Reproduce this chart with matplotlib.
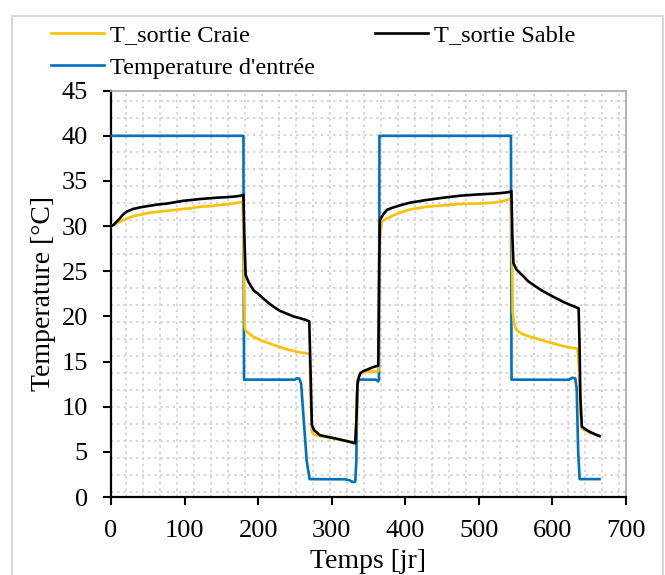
import matplotlib
matplotlib.use("Agg")
import matplotlib.pyplot as plt
from matplotlib.patches import Rectangle
import numpy as np

plt.rcParams['font.family'] = ['Liberation Serif', 'DejaVu Serif']

# Inlet temperature (blue)
t_in = [0, 180.0, 180.8, 250, 253, 256, 258.5, 262, 266, 270, 318, 324, 329, 332,
        333.5, 334.5, 335.5, 360, 363, 364.2, 364.9, 543.6, 544.4, 622, 627, 631,
        633, 635, 637, 664]
T_in = [40, 40, 13.0, 13.0, 13.15, 13.1, 12.5, 8.5, 4.0, 1.98, 1.96, 1.85, 1.65, 1.7,
        4.0, 11.5, 13.0, 13.0, 12.8, 13.0, 40, 40, 13.0, 12.98, 13.2, 13.15,
        12.0, 5.0, 1.98, 1.98]

# Outlet temperature, chalk (yellow)
t_craie = [0, 3, 12, 21, 30, 42, 53, 65, 76, 88, 98, 110, 121, 133, 144, 155, 166,
           173, 179, 180.6, 181.8, 184, 193.6, 205, 216, 228, 239, 252, 262, 268,
           270, 271.5, 273, 276, 284, 295, 307, 320, 332, 333.5, 335, 336.5, 339,
           350, 362, 363.6, 365, 368, 376, 384, 395, 406.6, 418, 429, 452, 474.6,
           497, 520, 532, 540, 543.5, 544.8, 546, 548, 551, 560, 570, 592.5, 615,
           628, 634, 636, 638, 640, 645, 651, 658, 664]
T_craie = [30.0, 30.1, 30.5, 30.8, 31.1, 31.3, 31.5, 31.6, 31.7, 31.8, 31.9, 32.0,
           32.15, 32.2, 32.3, 32.4, 32.5, 32.6, 32.7, 27.0, 18.7, 18.3, 17.75, 17.3,
           17.0, 16.65, 16.35, 16.1, 15.95, 15.9, 15.7, 11.0, 7.2, 6.9, 6.75, 6.6,
           6.4, 6.2, 6.05, 8.0, 12.0, 13.3, 13.8, 13.9, 13.9, 14.0, 28.0, 30.5,
           30.9, 31.2, 31.55, 31.85, 32.0, 32.15, 32.3, 32.45, 32.5, 32.6, 32.75,
           32.95, 33.0, 29.0, 20.5, 19.2, 18.5, 18.0, 17.75, 17.2, 16.7, 16.5, 16.45,
           14.5, 9.5, 7.6, 7.35, 7.1, 6.9, 6.75]

# Outlet temperature, sand (black)
t_sable = [0, 3, 7, 12, 16, 21, 30, 41, 53, 64, 76, 87, 98, 110, 121, 133, 144, 155,
           166, 175, 180, 181.2, 183, 187, 193.6, 200, 207, 214, 221, 230, 239, 248,
           257, 265, 269.5, 271.2, 273, 276, 284, 295, 307, 320, 332, 333.5, 335,
           337, 339, 343, 348, 355, 361, 363.3, 364.6, 365.5, 370, 375, 384, 395,
           406.6, 418, 429, 452, 474.6, 497, 520, 535, 542.6, 544.2, 545.5, 547,
           551, 556, 561, 567, 574, 583, 592.5, 603, 615, 625, 635.6, 636.8, 638,
           640, 645, 651, 658, 664]
T_sable = [30.0, 30.1, 30.45, 30.86, 31.25, 31.6, 31.9, 32.1, 32.26, 32.4, 32.5,
           32.65, 32.8, 32.9, 33.0, 33.08, 33.15, 33.2, 33.26, 33.35, 33.45, 29.0,
           24.6, 23.8, 22.9, 22.5, 22.0, 21.5, 21.07, 20.6, 20.3, 20.0, 19.8, 19.6,
           19.45, 14.0, 8.0, 7.4, 6.85, 6.65, 6.45, 6.2, 5.95, 8.5, 12.5, 13.3, 13.7,
           13.95, 14.1, 14.35, 14.5, 14.55, 26.0, 30.67, 31.3, 31.8, 32.08, 32.35,
           32.6, 32.75, 32.9, 33.15, 33.37, 33.5, 33.6, 33.7, 33.8, 33.9, 29.0, 25.9,
           25.2, 24.8, 24.4, 23.9, 23.5, 23.0, 22.55, 22.1, 21.6, 21.25, 20.9, 17.0,
           11.0, 7.8, 7.5, 7.2, 6.95, 6.75]

x_ticks = [0, 100, 200, 300, 400, 500, 600, 700]
y_ticks = [0, 5, 10, 15, 20, 25, 30, 35, 40, 45]

fig = plt.figure(figsize=(6.65, 5.75), dpi=100)
fig.patches.append(Rectangle((12 / 665, -0.02), 651 / 665, 1.02 - 16 / 575,
                             transform=fig.transFigure, fill=False,
                             edgecolor='#d9d9d9', linewidth=1.5, zorder=0))

ax = fig.add_axes([111 / 665, 1 - 497 / 575, 515 / 665, (497 - 90.7) / 575])

ax.plot(t_in, T_in, color='#0070C0', lw=1.9, label="Temperature d'entrée", zorder=3)
ax.plot(t_craie, T_craie, color='#FFC000', lw=1.9, label='T_sortie Craie', zorder=4)
ax.plot(t_sable, T_sable, color='black', lw=1.9, label='T_sortie Sable', zorder=5)

ax.set_xlim(0, 700)
ax.set_ylim(0, 45)
ax.set_xticks(x_ticks)
ax.set_yticks(y_ticks)

gx = np.arange(20.4, 700, 23.1)
gy = np.arange(0.55, 45, 1.885)
ax.set_xticks(gx, minor=True)
ax.set_yticks(gy, minor=True)
ax.tick_params(which='minor', length=0)
ax.grid(which='minor', color='#cfcfcf', linestyle=(0, (1.5, 2.2)), linewidth=1.2)
ax.grid(which='major', visible=False)

ax.tick_params(which='major', direction='out', length=5.7, width=1.5,
               labelsize=19, color='black')
ax.tick_params(axis='x', pad=11)
ax.tick_params(axis='y', pad=11)
for s in ['left', 'bottom']:
    ax.spines[s].set_color('black')
    ax.spines[s].set_linewidth(1.6)
for s in ['top', 'right']:
    ax.spines[s].set_color('#a6a6a6')
    ax.spines[s].set_linewidth(1.2)

ax.set_xlabel('Temps [jr]', fontsize=20, labelpad=5)
ax.set_ylabel('Temperature [°C]', fontsize=20, labelpad=4)

h = {l.get_label(): l for l in ax.get_lines()}
handles = [h['T_sortie Craie'], h["Temperature d'entrée"], h['T_sortie Sable']]
fig.legend(handles, [x.get_label() for x in handles], ncol=2,
           loc='upper left', bbox_to_anchor=(51 / 665, 1 - 24 / 575),
           frameon=False, fontsize=17.5, handlelength=2.18, handletextpad=0.25,
           columnspacing=2.47, labelspacing=0.45, borderaxespad=0, borderpad=0)

fig.savefig('out.png', dpi=100)
